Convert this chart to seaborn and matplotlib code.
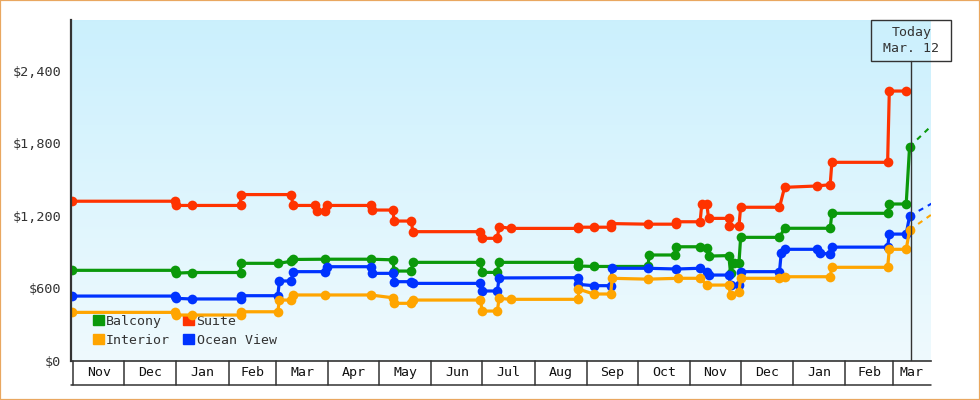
import numpy as np
import pandas as pd
import matplotlib
matplotlib.use("Agg")
import matplotlib.pyplot as plt
import matplotlib.dates as mdates
from matplotlib.patches import Rectangle, Patch
from matplotlib.lines import Line2D
from matplotlib.ticker import FuncFormatter, FixedLocator
from matplotlib.transforms import blended_transform_factory
import seaborn as sns

# ---------------- data ----------------
cabins = ["Balcony", "Interior", "Suite", "Ocean View"]
palette = {"Balcony": "#0b990b", "Interior": "#ffa500", "Suite": "#ff3300", "Ocean View": "#0033ff"}

suite = [("2012-10-31", 1320), ("2012-12-31", 1320), ("2013-01-01", 1285), ("2013-01-10", 1285),
         ("2013-02-08", 1285), ("2013-02-08", 1375), ("2013-03-10", 1375), ("2013-03-11", 1285),
         ("2013-03-24", 1285), ("2013-03-25", 1235), ("2013-03-30", 1235), ("2013-03-31", 1285),
         ("2013-04-26", 1285), ("2013-04-27", 1247), ("2013-05-09", 1247), ("2013-05-10", 1156),
         ("2013-05-20", 1156), ("2013-05-21", 1068), ("2013-06-30", 1068), ("2013-07-01", 1013),
         ("2013-07-10", 1013), ("2013-07-11", 1109), ("2013-07-18", 1095), ("2013-08-27", 1095),
         ("2013-08-27", 1105), ("2013-09-05", 1105), ("2013-09-15", 1105), ("2013-09-15", 1135),
         ("2013-10-07", 1130), ("2013-10-24", 1130), ("2013-10-24", 1150), ("2013-11-07", 1150),
         ("2013-11-08", 1295), ("2013-11-11", 1295), ("2013-11-12", 1178), ("2013-11-24", 1178),
         ("2013-11-24", 1115), ("2013-11-30", 1115), ("2013-12-01", 1270), ("2013-12-24", 1270),
         ("2013-12-27", 1435), ("2014-01-15", 1446), ("2014-01-23", 1457), ("2014-01-24", 1642),
         ("2014-02-26", 1642), ("2014-02-27", 2232), ("2014-03-09", 2232)]

balcony = [("2012-10-31", 748), ("2012-12-31", 748), ("2013-01-01", 725), ("2013-01-10", 730),
           ("2013-02-08", 730), ("2013-02-08", 806), ("2013-03-02", 806), ("2013-03-10", 822),
           ("2013-03-11", 838), ("2013-03-30", 840), ("2013-04-26", 840), ("2013-05-09", 835),
           ("2013-05-10", 742), ("2013-05-20", 742), ("2013-05-21", 814), ("2013-06-30", 814),
           ("2013-07-01", 731), ("2013-07-10", 731), ("2013-07-11", 814), ("2013-08-27", 814),
           ("2013-08-27", 784), ("2013-09-05", 780), ("2013-10-07", 780), ("2013-10-08", 875),
           ("2013-10-23", 875), ("2013-10-24", 943), ("2013-11-07", 943), ("2013-11-11", 935),
           ("2013-11-12", 866), ("2013-11-24", 870), ("2013-11-25", 728), ("2013-11-27", 806),
           ("2013-11-30", 806), ("2013-12-01", 1021), ("2013-12-24", 1021), ("2013-12-27", 1096),
           ("2014-01-23", 1096), ("2014-01-24", 1220), ("2014-02-26", 1220), ("2014-02-27", 1297),
           ("2014-03-09", 1297), ("2014-03-11", 1771)]

ocean_view = [("2012-10-31", 535), ("2012-12-31", 535), ("2013-01-01", 516), ("2013-01-10", 511),
              ("2013-02-08", 511), ("2013-02-08", 538), ("2013-03-02", 538), ("2013-03-03", 660),
              ("2013-03-10", 660), ("2013-03-11", 737), ("2013-03-30", 737), ("2013-03-31", 778),
              ("2013-04-26", 778), ("2013-04-27", 723), ("2013-05-09", 723), ("2013-05-10", 654),
              ("2013-05-20", 654), ("2013-05-21", 640), ("2013-06-30", 640), ("2013-07-01", 577),
              ("2013-07-10", 577), ("2013-07-11", 685), ("2013-08-27", 687), ("2013-08-27", 632),
              ("2013-09-05", 621), ("2013-09-15", 621), ("2013-09-16", 765), ("2013-10-07", 765),
              ("2013-10-24", 759), ("2013-11-07", 765), ("2013-11-11", 737), ("2013-11-12", 709),
              ("2013-11-24", 709), ("2013-11-25", 626), ("2013-11-30", 626), ("2013-12-01", 737),
              ("2013-12-24", 737), ("2013-12-25", 889), ("2013-12-27", 922), ("2014-01-15", 922),
              ("2014-01-17", 889), ("2014-01-23", 883), ("2014-01-24", 940), ("2014-02-26", 940),
              ("2014-02-27", 1048), ("2014-03-09", 1048), ("2014-03-11", 1198)]

interior = [("2012-10-31", 400), ("2012-12-31", 400), ("2013-01-01", 378), ("2013-01-10", 378),
            ("2013-02-08", 378), ("2013-02-08", 405), ("2013-03-02", 405), ("2013-03-03", 502),
            ("2013-03-10", 502), ("2013-03-11", 544), ("2013-03-30", 544), ("2013-04-26", 544),
            ("2013-05-09", 521), ("2013-05-10", 475), ("2013-05-20", 475), ("2013-05-21", 502),
            ("2013-06-30", 502), ("2013-07-01", 411), ("2013-07-10", 411), ("2013-07-11", 516),
            ("2013-07-18", 508), ("2013-08-27", 508), ("2013-08-27", 593), ("2013-09-05", 552),
            ("2013-09-15", 552), ("2013-09-16", 682), ("2013-10-07", 675), ("2013-10-25", 682),
            ("2013-11-07", 682), ("2013-11-11", 626), ("2013-11-24", 626), ("2013-11-25", 544),
            ("2013-11-30", 571), ("2013-12-01", 682), ("2013-12-24", 682), ("2013-12-27", 695),
            ("2014-01-23", 695), ("2014-01-24", 773), ("2014-02-26", 773), ("2014-02-27", 922),
            ("2014-03-09", 922), ("2014-03-11", 1082)]

# projected trend after today
proj_dates = ["2014-03-11", "2014-03-24"]
balcony_proj = [1771, 1945]
ocean_view_proj = [1198, 1300]
interior_proj = [1082, 1210]

today = "2014-03-12"
today_label = ["Today", "Mar. 12"]

y_ticks = [0, 600, 1200, 1800, 2400]
month_labels = ["Nov", "Dec", "Jan", "Feb", "Mar", "Apr", "May", "Jun", "Jul",
                "Aug", "Sep", "Oct", "Nov", "Dec", "Jan", "Feb", "Mar"]
x_start, x_end = "2012-10-30 15:00", "2014-03-23 12:00"

# ---------------- frames ----------------
def frame(pairs, name):
    d = pd.DataFrame(pairs, columns=["date", "price"])
    d["date"] = pd.to_datetime(d["date"])
    d["cabin"] = name
    return d

df = pd.concat([frame(suite, "Suite"), frame(balcony, "Balcony"),
                frame(ocean_view, "Ocean View"), frame(interior, "Interior")], ignore_index=True)
proj = pd.concat([frame(list(zip(proj_dates, balcony_proj)), "Balcony"),
                  frame(list(zip(proj_dates, ocean_view_proj)), "Ocean View"),
                  frame(list(zip(proj_dates, interior_proj)), "Interior")], ignore_index=True)

# ---------------- figure ----------------
sns.set_style("white")
plt.rcParams["font.family"] = ["DejaVu Sans Mono", "DejaVu Sans"]
TXT = "#333333"

W, H = 980, 400
fig = plt.figure(figsize=(W / 100, H / 100), dpi=100)
fig.patch.set_facecolor("white")

ax_l, ax_r, ax_t, ax_b = 71, 930.7, 20, 360.7
pos = [ax_l / W, 1 - ax_b / H, (ax_r - ax_l) / W, (ax_b - ax_t) / H]

# gradient background
ax_bg = fig.add_axes(pos, zorder=0)
top = np.array([0.796, 0.941, 0.992])
bot = np.array([0.937, 0.980, 0.996])
t = np.linspace(0, 1, 256)[:, None]
grad = (top * (1 - t) + bot * t)[:, None, :]
ax_bg.imshow(grad, aspect="auto", extent=[0, 1, 0, 1], interpolation="bilinear")
ax_bg.axis("off")

ax = fig.add_axes(pos, zorder=1)
ax.patch.set_alpha(0)

sns.lineplot(data=df, x="date", y="price", hue="cabin", palette=palette,
             estimator=None, sort=False, marker="o", markersize=7.0, markeredgewidth=0,
             linewidth=2.3, legend=False, ax=ax)
sns.lineplot(data=proj, x="date", y="price", hue="cabin", palette=palette,
             estimator=None, sort=False, linewidth=1.5, linestyle=(0, (2.5, 2.5)),
             legend=False, ax=ax)

x0, x1 = pd.Timestamp(x_start), pd.Timestamp(x_end)
ax.set_xlim(x0, x1)
ax.set_ylim(0, 2820)

# y axis
ax.yaxis.set_major_locator(FixedLocator(y_ticks))
ax.yaxis.set_major_formatter(FuncFormatter(lambda v, p: f"${v:,.0f}"))
ax.tick_params(axis="y", direction="out", length=5, width=2, color=TXT,
               labelsize=9.7, labelcolor=TXT, pad=2)
ax.set_xticks([])
ax.set_xlabel("")
ax.set_ylabel("")
for s in ["top", "right"]:
    ax.spines[s].set_visible(False)
ax.spines["left"].set_color(TXT)
ax.spines["left"].set_linewidth(1.6)
ax.spines["bottom"].set_color(TXT)
ax.spines["bottom"].set_linewidth(1.2)

# month box row
trans = blended_transform_factory(ax.transData, ax.transAxes)
row_h = 24.5 / (ax_b - ax_t)
nx0, nx1 = mdates.date2num(x0), mdates.date2num(x1)
starts = [mdates.date2num(d) for d in pd.date_range("2012-11-01", periods=len(month_labels), freq="MS")]
for i, (s, lab) in enumerate(zip(starts, month_labels)):
    e = starts[i + 1] if i + 1 < len(starts) else nx1
    ax.add_artist(Line2D([s, s], [0, -row_h], transform=trans, clip_on=False, color=TXT, lw=1.1))
    ax.text((max(s, nx0) + min(e, nx1)) / 2, -row_h / 2, lab, transform=trans,
            ha="center", va="center", fontsize=9.5, color="#111111", clip_on=False)
ax.add_artist(Line2D([nx0, nx1], [-row_h, -row_h], transform=trans, clip_on=False, color=TXT, lw=1.1))

# today marker
box_bottom = (ax_b - 60.7) / (ax_b - ax_t)
ax.axvline(pd.Timestamp(today), ymin=0, ymax=box_bottom, color=TXT, lw=1)
fig.canvas.draw()
xp = ax.transData.transform((mdates.date2num(pd.Timestamp(today)), 0))[0]
fig.add_artist(Rectangle(((xp - 40) / W, 1 - 60.7 / H), 80 / W, 40.7 / H,
                         transform=fig.transFigure, fill=False, ec=TXT, lw=1))
fig.text(xp / W, 1 - 32.5 / H, today_label[0], ha="center", va="center", fontsize=9.5, color=TXT)
fig.text(xp / W, 1 - 49 / H, today_label[1], ha="center", va="center", fontsize=9.5, color=TXT)

# legend
handles = [Patch(color=palette[c], label=c) for c in cabins]
leg = ax.legend(handles=handles, ncol=2, loc="upper left", bbox_to_anchor=(0.0256, 0.135),
                frameon=False, handlelength=0.8, handleheight=0.8, handletextpad=0.2,
                columnspacing=1.0, labelspacing=0.45, borderpad=0, borderaxespad=0,
                fontsize=9.5, labelcolor=TXT)
leg.set_zorder(1)

# outer border
fig.add_artist(Rectangle((0, 0), 1, 1, transform=fig.transFigure, fill=False,
                         ec="#e9a760", lw=1.6))

fig.savefig("out.png", dpi=100)
